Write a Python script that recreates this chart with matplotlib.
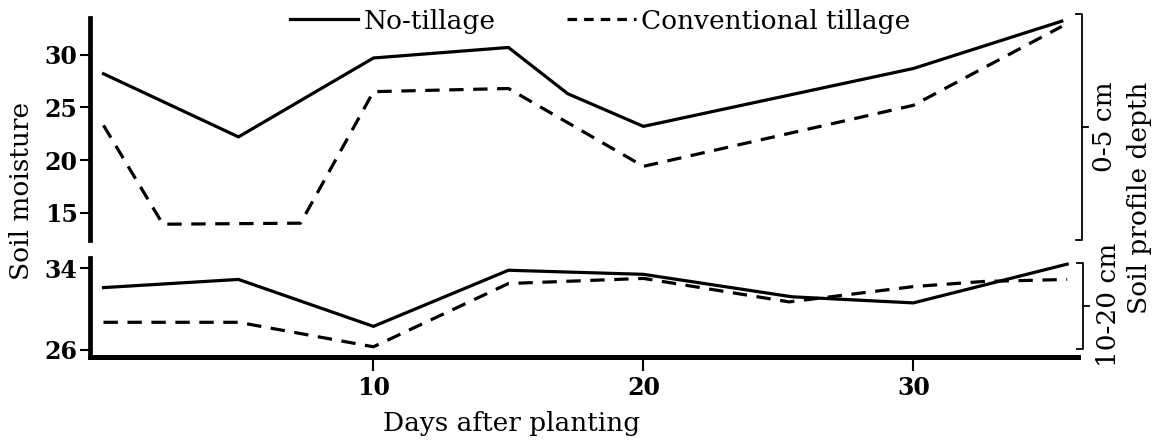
import numpy as np
import matplotlib
matplotlib.use("Agg")
import matplotlib.pyplot as plt
from matplotlib.lines import Line2D

plt.rcParams['font.family'] = ['DejaVu Serif']

# top panel, 0-5 cm
top_days_nt = [0, 5, 10, 15, 17.2, 20, 30, 35.5]
top_nt = [28.2, 22.2, 29.7, 30.7, 26.3, 23.2, 28.7, 33.2]
top_days_ct = [0, 2.2, 7.3, 10, 15, 20, 30, 35.5]
top_ct = [23.3, 13.9, 14.0, 26.5, 26.8, 19.4, 25.2, 32.7]

# bottom panel, 10-20 cm
bot_days_nt = [0, 5, 10, 15, 20, 25.5, 30, 35.7]
bot_nt = [32.1, 32.9, 28.3, 33.8, 33.4, 31.2, 30.6, 34.4]
bot_days_ct = [0, 5, 10, 15, 20, 25.4, 30, 32.6, 35.7]
bot_ct = [28.7, 28.7, 26.3, 32.5, 33.0, 30.7, 32.2, 32.7, 32.9]

top_ticks = [15, 20, 25, 30]
bot_ticks = [26, 34]
x_ticks = [10, 20, 30]

W, H = 1159, 443
fs = 19
fig = plt.figure(figsize=(W / 100, H / 100), dpi=100)
ax1 = fig.add_axes([90 / W, 1 - 240 / H, 988 / W, 222 / H])
ax2 = fig.add_axes([90 / W, 1 - 357 / H, 988 / W, 99 / H])

lw = 2.3
dash = (0, (4.5, 3))
ax1.plot(top_days_nt, top_nt, color='black', lw=lw)
ax1.plot(top_days_ct, top_ct, color='black', lw=lw, linestyle=dash)
ax2.plot(bot_days_nt, bot_nt, color='black', lw=lw)
ax2.plot(bot_days_ct, bot_ct, color='black', lw=lw, linestyle=dash)

for ax in (ax1, ax2):
    ax.set_xlim(-0.5, 36.1)
    for s in ('top', 'right'):
        ax.spines[s].set_visible(False)
    ax.spines['left'].set_linewidth(3.4)
    ax.tick_params(axis='y', direction='out', length=7, width=1.5, pad=2,
                   labelsize=17)

ax1.set_ylim(12.4, 33.5)
ax1.set_yticks(top_ticks)
ax1.spines['bottom'].set_visible(False)
ax1.set_xticks([])

ax2.set_ylim(25.3, 35.0)
ax2.set_yticks(bot_ticks)
ax2.spines['bottom'].set_linewidth(3.6)
ax2.set_xticks(x_ticks)
ax2.tick_params(axis='x', direction='out', length=10, width=1.5, pad=4,
                labelsize=17)
for ax in (ax1, ax2):
    for lab in ax.get_yticklabels() + ax.get_xticklabels():
        lab.set_fontweight('bold')

fig.text(512 / W, 1 - 424 / H, 'Days after planting', ha='center',
         va='center', fontsize=fs)
fig.text(22 / W, 1 - 191 / H, 'Soil moisture', rotation=90, ha='center',
         va='center', fontsize=fs)
fig.text(1105 / W, 1 - 127 / H, '0-5 cm', rotation=90, ha='center',
         va='center', fontsize=fs)
fig.text(1108 / W, 1 - 305 / H, '10-20 cm', rotation=90, ha='center',
         va='center', fontsize=fs)
fig.text(1139 / W, 1 - 198 / H, 'Soil profile depth', rotation=90,
         ha='center', va='center', fontsize=fs)


# brackets on the right side
def bracket(y_top, y_bot, x=1082):
    xs = [(x - 6) / W, x / W, x / W, (x - 6) / W]
    ys = [1 - y_top / H, 1 - y_top / H, 1 - y_bot / H, 1 - y_bot / H]
    fig.add_artist(Line2D(xs, ys, color='black', lw=1.3))
    ym = 1 - (y_top + y_bot) / 2 / H
    fig.add_artist(Line2D([x / W, (x + 6) / W], [ym, ym], color='black',
                          lw=1.3))


bracket(14, 240)
bracket(263, 349, x=1083)

handles = [Line2D([], [], color='black', lw=lw),
           Line2D([], [], color='black', lw=lw, linestyle=(0, (3, 2.2)))]
fig.legend(handles, ['No-tillage', 'Conventional tillage'], ncol=2,
           frameon=False, loc='center', bbox_to_anchor=(600 / W, 1 - 21 / H),
           fontsize=fs, handlelength=2.6, handletextpad=0.2,
           columnspacing=2.7)

fig.savefig('out.png', dpi=100)
